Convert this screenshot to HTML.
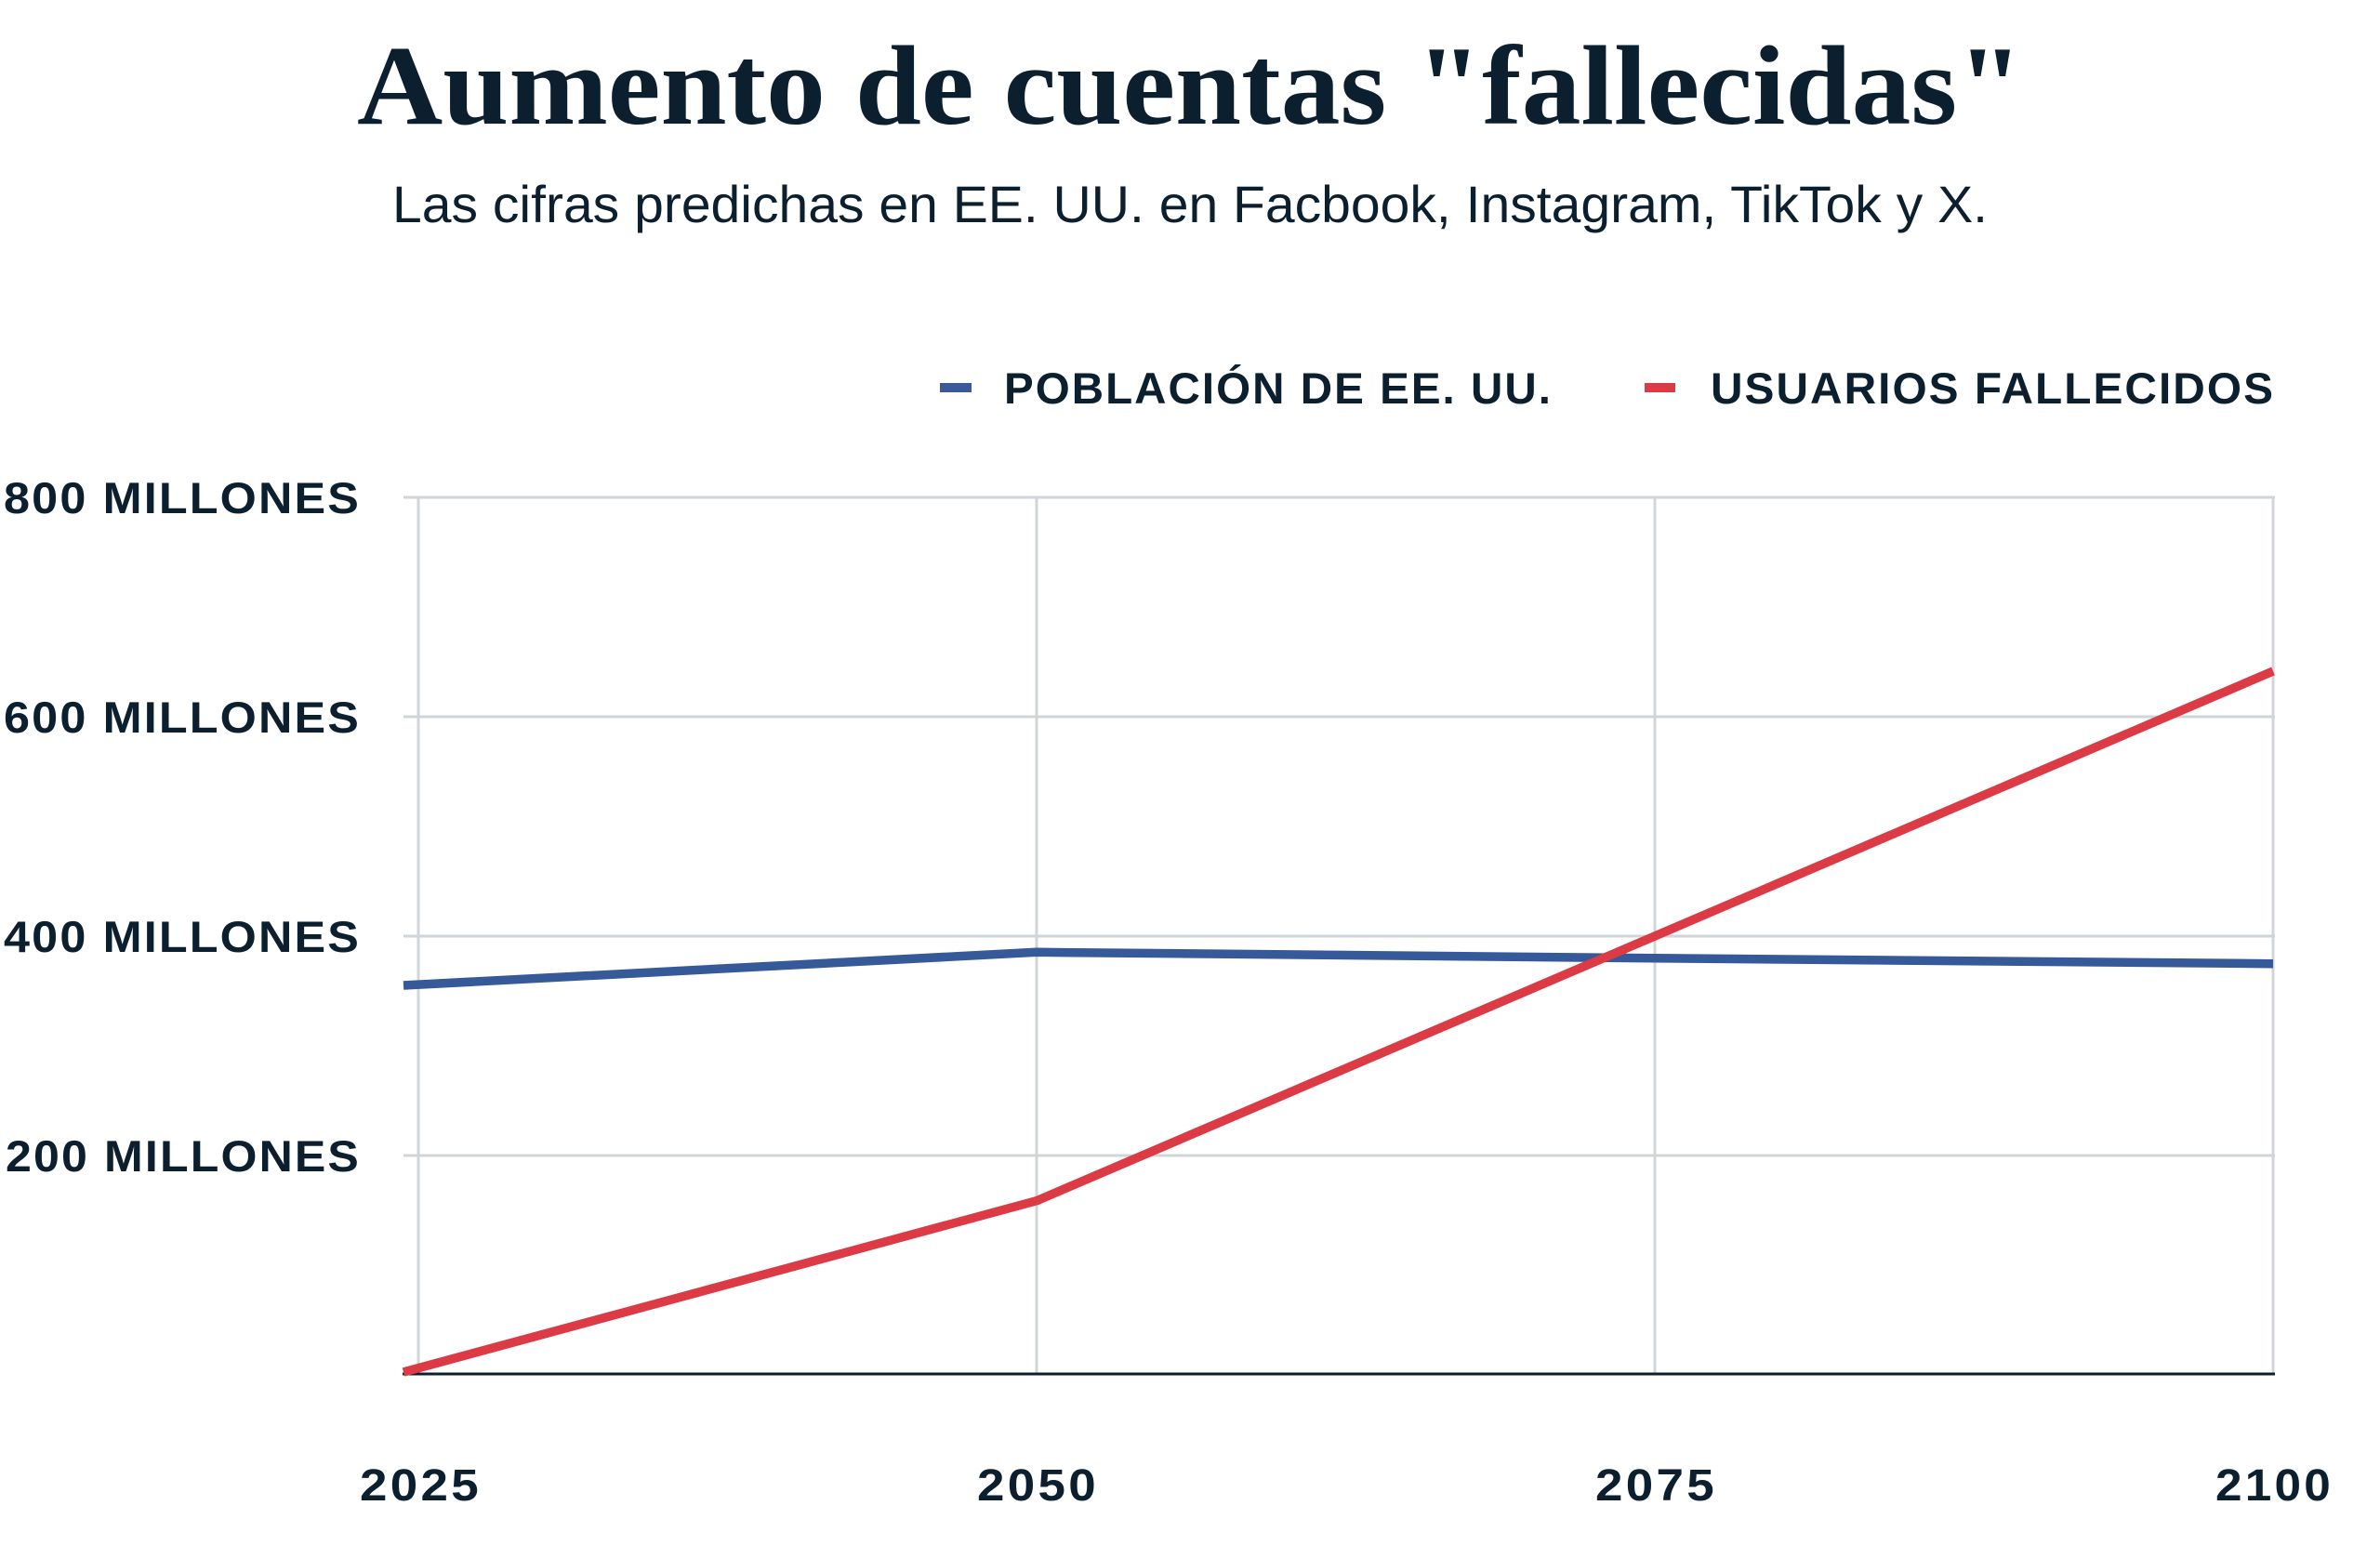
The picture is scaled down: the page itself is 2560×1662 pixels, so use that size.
<!DOCTYPE html>
<html>
<head>
<meta charset="utf-8">
<style>
  html,body{margin:0;padding:0;background:#ffffff;}
  body{width:2560px;height:1662px;overflow:hidden;}
  svg{display:block;}
</style>
</head>
<body>
<svg width="2560" height="1662" viewBox="0 0 2560 1662" xmlns="http://www.w3.org/2000/svg">
  <rect x="0" y="0" width="2560" height="1662" fill="#ffffff"/>

  <!-- Title -->
  <text x="384" y="133" font-family="'Liberation Serif', serif" font-weight="bold" font-size="122" fill="#0c1f2f" textLength="1792" lengthAdjust="spacingAndGlyphs">Aumento de cuentas "fallecidas"</text>

  <!-- Subtitle -->
  <text x="422" y="239" font-family="'Liberation Sans', sans-serif" font-size="56" fill="#0c1f2f" textLength="1716" lengthAdjust="spacingAndGlyphs">Las cifras predichas en EE. UU. en Facbook, Instagram, TikTok y X.</text>

  <!-- Legend -->
  <rect x="1011" y="412" width="34" height="10" fill="#3a5a9a"/>
  <text x="1080" y="434" font-family="'Liberation Sans', sans-serif" font-weight="bold" font-size="47" letter-spacing="2" fill="#0c1f2f" textLength="590" lengthAdjust="spacingAndGlyphs">POBLACIÓN DE EE. UU.</text>
  <rect x="1769" y="412" width="33" height="10" fill="#dc3a44"/>
  <text x="1840" y="434" font-family="'Liberation Sans', sans-serif" font-weight="bold" font-size="47" letter-spacing="2" fill="#0c1f2f" textLength="607" lengthAdjust="spacingAndGlyphs">USUARIOS FALLECIDOS</text>

  <!-- Gridlines -->
  <g stroke="#d0d5d9" stroke-width="3" fill="none">
    <line x1="434" y1="535" x2="2447" y2="535"/>
    <line x1="434" y1="771" x2="2447" y2="771"/>
    <line x1="434" y1="1007" x2="2447" y2="1007"/>
    <line x1="434" y1="1243" x2="2447" y2="1243"/>
    <line x1="450" y1="533.5" x2="450" y2="1478"/>
    <line x1="1115" y1="533.5" x2="1115" y2="1478"/>
    <line x1="1780" y1="533.5" x2="1780" y2="1478"/>
    <line x1="2445" y1="533.5" x2="2445" y2="1478"/>
  </g>

  <!-- Baseline -->
  <line x1="433" y1="1478" x2="2447" y2="1478" stroke="#0c1f2f" stroke-width="3"/>

  <!-- Y labels -->
  <g font-family="'Liberation Sans', sans-serif" font-weight="bold" font-size="47" letter-spacing="2" fill="#0c1f2f">
    <text x="4" y="552" textLength="384" lengthAdjust="spacingAndGlyphs">800 MILLONES</text>
    <text x="4" y="788" textLength="384" lengthAdjust="spacingAndGlyphs">600 MILLONES</text>
    <text x="4" y="1024" textLength="384" lengthAdjust="spacingAndGlyphs">400 MILLONES</text>
    <text x="6" y="1260" textLength="382" lengthAdjust="spacingAndGlyphs">200 MILLONES</text>
  </g>

  <!-- X labels -->
  <g font-family="'Liberation Sans', sans-serif" font-weight="bold" font-size="48" letter-spacing="3" fill="#0c1f2f">
    <text x="387" y="1614" textLength="131" lengthAdjust="spacingAndGlyphs">2025</text>
    <text x="1051" y="1614" textLength="131" lengthAdjust="spacingAndGlyphs">2050</text>
    <text x="1716" y="1614" textLength="131" lengthAdjust="spacingAndGlyphs">2075</text>
    <text x="2383" y="1614" textLength="127" lengthAdjust="spacingAndGlyphs">2100</text>
  </g>

  <!-- Series -->
  <polyline points="434,1060 1115,1024.3 1780,1030.7 2445,1036.7" fill="none" stroke="#36599a" stroke-width="9.5" stroke-linejoin="round"/>
  <polyline points="434,1476 1115,1291.7 1780,1007 2445,722" fill="none" stroke="#dc3a44" stroke-width="9.5" stroke-linejoin="round"/>
</svg>
</body>
</html>
